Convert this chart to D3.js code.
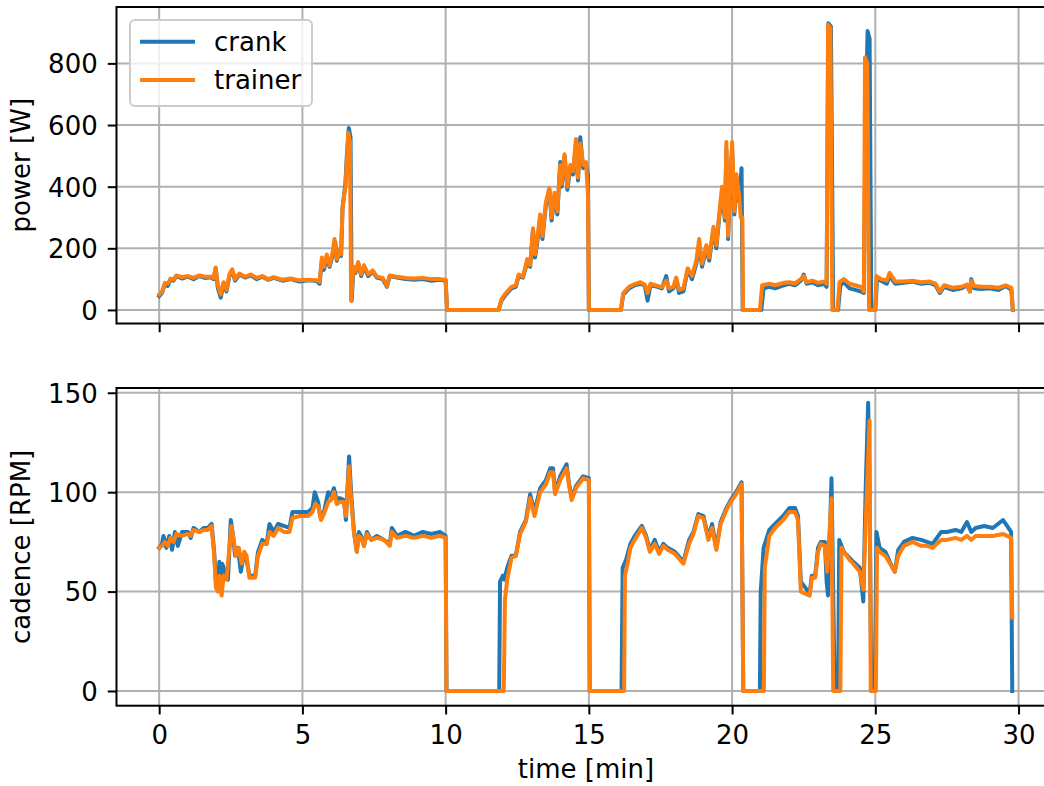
<!DOCTYPE html>
<html>
<head>
<meta charset="utf-8">
<script src="https://cdn.jsdelivr.net/npm/d3@7"></script>
<style>
  body { margin: 0; background: white; }
  text { font-family: "DejaVu Sans", sans-serif; }
</style>
</head>
<body>
<div id="chart"></div>
<script>
// Tick values
var timeTicks = [0, 5, 10, 15, 20, 25, 30];
var powerTicks = [0, 200, 400, 600, 800];
var cadenceTicks = [0, 50, 100, 150];

// Series: [time in min, value]
var crankPower = [[0,45],[0.1,55],[0.2,85],[0.3,78],[0.4,100],[0.5,95],[0.6,110],[0.8,102],[1.0,108],[1.2,100],[1.4,110],[1.6,104],[1.8,106],[1.9,100],[1.97,135],[2.05,70],[2.15,40],[2.25,85],[2.35,60],[2.45,110],[2.55,125],[2.65,95],[2.8,115],[3.0,105],[3.2,112],[3.4,100],[3.6,108],[3.8,98],[4.0,104],[4.3,95],[4.6,100],[4.9,92],[5.2,96],[5.5,94],[5.6,85],[5.68,160],[5.75,130],[5.85,170],[5.95,140],[6.05,175],[6.15,220],[6.2,160],[6.3,190],[6.35,175],[6.4,330],[6.5,410],[6.55,500],[6.62,590],[6.68,560],[6.72,30],[6.78,130],[6.85,120],[6.95,150],[7.05,110],[7.15,140],[7.3,110],[7.45,125],[7.6,105],[7.8,100],[7.95,75],[8.05,110],[8.3,105],[8.6,100],[8.9,98],[9.2,100],[9.5,95],[9.8,98],[10.0,95],[10.05,0],[11.85,0],[11.95,30],[12.1,50],[12.3,70],[12.45,75],[12.55,110],[12.7,105],[12.85,155],[12.95,140],[13.05,260],[13.12,170],[13.2,220],[13.3,300],[13.38,230],[13.5,340],[13.62,390],[13.7,290],[13.8,370],[13.9,310],[14.0,480],[14.05,400],[14.15,500],[14.25,390],[14.35,460],[14.45,440],[14.55,540],[14.62,420],[14.7,560],[14.8,460],[14.9,470],[14.97,440],[15.0,0],[16.12,0],[16.2,50],[16.4,70],[16.6,80],[16.8,85],[16.95,80],[17.05,30],[17.15,80],[17.4,75],[17.55,70],[17.7,110],[17.8,60],[17.95,70],[18.05,100],[18.15,55],[18.3,60],[18.45,130],[18.6,100],[18.75,150],[18.85,210],[18.95,140],[19.1,200],[19.2,160],[19.35,260],[19.45,200],[19.55,300],[19.65,380],[19.75,290],[19.8,520],[19.86,230],[19.93,400],[20.0,520],[20.08,310],[20.15,420],[20.25,350],[20.33,460],[20.37,0],[21.02,0],[21.1,70],[21.3,75],[21.5,70],[21.8,80],[22.0,85],[22.2,80],[22.4,95],[22.5,115],[22.6,85],[22.8,90],[23.0,80],[23.2,85],[23.3,75],[23.36,930],[23.45,920],[23.53,0],[23.7,0],[23.78,80],[23.9,90],[24.1,70],[24.3,65],[24.5,60],[24.6,55],[24.66,600],[24.73,905],[24.8,880],[24.86,0],[25.0,0],[25.06,100],[25.2,95],[25.4,85],[25.5,110],[25.7,85],[26.0,88],[26.3,92],[26.6,85],[26.9,88],[27.1,80],[27.25,55],[27.4,75],[27.7,65],[28.0,70],[28.2,80],[28.3,60],[28.35,100],[28.45,70],[28.7,68],[29.0,70],[29.3,65],[29.55,78],[29.75,65],[29.8,0]];

var trainerPower = [[0,50],[0.1,58],[0.2,88],[0.3,85],[0.4,102],[0.5,98],[0.6,112],[0.8,106],[1.0,110],[1.2,104],[1.4,112],[1.6,108],[1.8,108],[1.9,104],[1.97,138],[2.05,80],[2.15,50],[2.25,90],[2.35,65],[2.45,115],[2.55,132],[2.65,100],[2.8,118],[3.0,108],[3.2,115],[3.4,104],[3.6,110],[3.8,100],[4.0,106],[4.3,98],[4.6,102],[4.9,96],[5.2,98],[5.5,96],[5.6,92],[5.68,170],[5.75,140],[5.85,180],[5.95,145],[6.05,185],[6.12,230],[6.2,165],[6.3,195],[6.35,180],[6.4,330],[6.5,400],[6.55,480],[6.6,575],[6.66,545],[6.7,30],[6.78,140],[6.85,125],[6.95,155],[7.05,115],[7.15,145],[7.3,115],[7.45,128],[7.6,108],[7.8,104],[7.95,78],[8.05,112],[8.3,108],[8.6,104],[8.9,102],[9.2,104],[9.5,100],[9.8,100],[10.0,98],[10.05,0],[11.85,0],[11.95,35],[12.1,55],[12.3,75],[12.45,80],[12.55,115],[12.7,108],[12.85,165],[12.95,145],[13.05,265],[13.12,180],[13.2,230],[13.3,310],[13.38,240],[13.5,350],[13.62,395],[13.7,300],[13.8,380],[13.9,320],[14.0,470],[14.05,410],[14.15,505],[14.25,400],[14.35,470],[14.45,450],[14.55,555],[14.62,430],[14.7,540],[14.8,470],[14.9,480],[14.97,370],[15.0,0],[16.12,0],[16.2,55],[16.4,75],[16.6,84],[16.8,90],[16.95,82],[17.05,55],[17.15,85],[17.4,78],[17.55,74],[17.7,95],[17.8,70],[17.95,75],[18.05,105],[18.15,65],[18.3,70],[18.45,135],[18.6,110],[18.75,160],[18.85,230],[18.95,150],[19.1,210],[19.2,170],[19.35,270],[19.45,210],[19.55,310],[19.65,400],[19.75,300],[19.8,545],[19.86,240],[19.93,410],[20.0,545],[20.08,320],[20.15,440],[20.25,370],[20.3,300],[20.36,300],[20.38,0],[20.97,0],[21.05,80],[21.3,85],[21.5,80],[21.8,88],[22.0,90],[22.2,86],[22.4,100],[22.5,110],[22.6,90],[22.8,95],[23.0,88],[23.2,92],[23.3,85],[23.35,925],[23.43,915],[23.5,0],[23.68,0],[23.75,90],[23.9,100],[24.1,85],[24.3,80],[24.5,75],[24.6,60],[24.64,820],[24.72,800],[24.78,0],[25.0,0],[25.04,110],[25.2,100],[25.4,95],[25.5,120],[25.7,92],[26.0,92],[26.3,95],[26.6,90],[26.9,92],[27.1,85],[27.25,60],[27.4,80],[27.7,72],[28.0,75],[28.2,82],[28.3,60],[28.35,95],[28.45,78],[28.7,75],[29.0,75],[29.3,72],[29.55,80],[29.75,72],[29.8,0]];

var crankCadence = [[0,72],[0.1,74],[0.15,78],[0.25,72],[0.35,78],[0.45,71],[0.55,80],[0.65,73],[0.8,80],[1.0,80],[1.1,77],[1.2,82],[1.4,80],[1.55,82],[1.7,82],[1.83,84],[1.92,70],[1.98,55],[2.05,52],[2.1,65],[2.15,55],[2.2,64],[2.3,60],[2.4,56],[2.5,86],[2.58,78],[2.65,68],[2.75,72],[2.85,60],[2.95,68],[3.05,66],[3.15,58],[3.35,58],[3.45,70],[3.6,76],[3.75,74],[3.85,84],[4.0,80],[4.15,84],[4.35,83],[4.55,82],[4.65,90],[4.9,90],[5.2,90],[5.35,92],[5.43,100],[5.55,95],[5.62,88],[5.75,90],[5.9,100],[6.0,98],[6.1,102],[6.2,96],[6.3,97],[6.45,96],[6.52,86],[6.63,118],[6.7,100],[6.8,80],[6.9,70],[6.97,80],[7.05,78],[7.15,73],[7.25,80],[7.4,76],[7.6,78],[7.85,76],[8.05,74],[8.12,82],[8.3,78],[8.6,80],[8.9,78],[9.2,80],[9.5,79],[9.8,80],[10.0,78],[10.03,0],[11.87,0],[11.9,55],[12.0,58],[12.05,56],[12.15,62],[12.3,68],[12.45,68],[12.6,80],[12.8,86],[12.95,99],[13.1,90],[13.3,102],[13.5,106],[13.65,112],[13.75,112],[13.82,100],[14.0,108],[14.22,114],[14.3,105],[14.4,97],[14.55,103],[14.8,108],[15.0,107],[15.03,0],[16.14,0],[16.18,62],[16.3,66],[16.45,74],[16.6,78],[16.85,83],[17.0,78],[17.13,71],[17.3,76],[17.45,70],[17.6,74],[17.75,72],[18.0,70],[18.3,65],[18.5,76],[18.65,80],[18.82,89],[19.0,88],[19.17,77],[19.3,84],[19.45,72],[19.6,85],[19.8,92],[19.95,96],[20.1,99],[20.33,105],[20.39,0],[20.97,0],[21.0,50],[21.1,72],[21.3,81],[21.5,84],[21.78,88],[22.0,92],[22.2,92],[22.3,88],[22.4,55],[22.71,49],[22.78,58],[22.9,58],[23.0,72],[23.1,75],[23.24,75],[23.3,55],[23.35,48],[23.47,107],[23.52,60],[23.58,0],[23.7,0],[23.74,76],[23.9,70],[24.1,67],[24.23,65],[24.46,62],[24.58,45],[24.66,100],[24.75,145],[24.8,100],[24.86,0],[24.98,0],[25.04,80],[25.15,72],[25.35,70],[25.6,62],[25.68,60],[25.8,71],[26.0,75],[26.3,77],[26.6,76],[26.8,75],[27.0,74],[27.3,80],[27.5,80],[27.8,81],[28.0,80],[28.2,85],[28.35,80],[28.5,82],[28.8,83],[29.1,82],[29.46,86],[29.6,83],[29.74,80],[29.78,0]];

var trainerCadence = [[0,72],[0.1,73],[0.2,75],[0.3,73],[0.4,77],[0.5,75],[0.6,79],[0.8,78],[1.0,79],[1.1,78],[1.2,81],[1.4,80],[1.55,81],[1.7,81],[1.83,83],[1.92,68],[1.98,52],[2.05,50],[2.1,58],[2.18,48],[2.25,58],[2.35,56],[2.52,83],[2.6,76],[2.68,68],[2.78,72],[2.88,64],[2.97,70],[3.05,68],[3.15,57],[3.35,57],[3.45,68],[3.6,74],[3.75,74],[3.85,80],[4.0,78],[4.15,82],[4.35,80],[4.55,80],[4.65,87],[4.9,88],[5.2,88],[5.35,90],[5.45,94],[5.55,93],[5.65,86],[5.75,89],[5.9,95],[6.0,96],[6.1,100],[6.2,94],[6.3,95],[6.45,95],[6.52,88],[6.63,113],[6.7,96],[6.8,80],[6.9,70],[6.97,78],[7.05,77],[7.15,73],[7.25,79],[7.4,76],[7.6,77],[7.85,76],[8.05,73],[8.12,80],[8.3,77],[8.6,78],[8.9,77],[9.2,78],[9.5,77],[9.8,78],[10.0,77],[10.03,0],[12.03,0],[12.07,46],[12.15,56],[12.3,67],[12.45,68],[12.6,79],[12.8,85],[12.95,97],[13.1,88],[13.3,100],[13.5,104],[13.65,110],[13.75,110],[13.82,99],[14.0,106],[14.22,112],[14.3,104],[14.4,96],[14.55,102],[14.8,107],[15.0,106],[15.03,0],[16.23,0],[16.26,58],[16.35,64],[16.45,72],[16.6,76],[16.85,82],[17.0,77],[17.13,70],[17.3,74],[17.45,69],[17.6,73],[17.75,71],[18.0,69],[18.3,64],[18.5,74],[18.65,79],[18.82,88],[19.0,87],[19.17,76],[19.3,82],[19.45,71],[19.6,84],[19.8,91],[19.95,95],[20.1,98],[20.33,104],[20.39,0],[21.11,0],[21.14,62],[21.3,78],[21.5,82],[21.78,86],[22.0,90],[22.2,90],[22.3,86],[22.4,50],[22.71,48],[22.78,57],[22.9,57],[23.0,70],[23.1,74],[23.24,73],[23.32,60],[23.47,97],[23.53,0],[23.78,0],[23.82,72],[23.9,70],[24.1,66],[24.23,64],[24.46,60],[24.58,51],[24.68,90],[24.8,136],[24.84,0],[25.02,0],[25.06,72],[25.15,70],[25.35,68],[25.6,62],[25.68,60],[25.8,68],[26.0,73],[26.3,75],[26.6,73],[26.8,73],[27.0,72],[27.3,76],[27.5,76],[27.8,77],[28.0,76],[28.2,78],[28.35,76],[28.5,78],[28.8,78],[29.1,78],[29.46,79],[29.6,78],[29.74,77],[29.78,37]];

var colors = { crank: "#1f77b4", trainer: "#ff7f0e" };
var fontSize = 26;

var width = 1044, height = 786;
var left = 116.5, right = 1055.5;

var svg = d3.select("#chart").append("svg")
  .attr("width", width)
  .attr("height", height)
  .style("display", "block");

svg.append("rect").attr("width", width).attr("height", height).attr("fill", "white");

// Shared x scale (time in minutes)
var x = d3.scaleLinear().domain([-1.49, 31.29]).range([left, right]);

var yPower = d3.scaleLinear().domain([-44, 983]).range([323.5, 7]);
var yCadence = d3.scaleLinear().domain([-7.4, 152.4]).range([705.7, 388]);

function drawPanel(y, yTicks, label, crank, trainer, showXLabels, id) {
  var top = y.range()[1], bottom = y.range()[0];
  var g = svg.append("g");

  // Grid lines
  g.selectAll("line.xgrid").data(timeTicks).enter().append("line")
    .attr("x1", function(d) { return x(d); }).attr("x2", function(d) { return x(d); })
    .attr("y1", top).attr("y2", bottom)
    .attr("stroke", "#b0b0b0").attr("stroke-width", 2);
  g.selectAll("line.ygrid").data(yTicks).enter().append("line")
    .attr("x1", left).attr("x2", right)
    .attr("y1", function(d) { return y(d); }).attr("y2", function(d) { return y(d); })
    .attr("stroke", "#b0b0b0").attr("stroke-width", 2);

  // Clip lines to the axes area
  svg.append("clipPath").attr("id", id)
    .append("rect").attr("x", left).attr("y", top).attr("width", right - left).attr("height", bottom - top);

  var line = d3.line()
    .x(function(d) { return x(d[0]); })
    .y(function(d) { return y(d[1]); });

  [[crank, colors.crank], [trainer, colors.trainer]].forEach(function(s) {
    g.append("path")
      .datum(s[0])
      .attr("clip-path", "url(#" + id + ")")
      .attr("d", line)
      .attr("fill", "none")
      .attr("stroke", s[1])
      .attr("stroke-width", 4)
      .attr("stroke-linejoin", "round")
      .attr("stroke-linecap", "square");
  });

  // Spines
  g.append("rect")
    .attr("x", left).attr("y", top)
    .attr("width", right - left).attr("height", bottom - top)
    .attr("fill", "none").attr("stroke", "black").attr("stroke-width", 2);

  // Y axis
  var yAxis = d3.axisLeft(y).tickValues(yTicks).tickSize(8.75).tickPadding(10);
  var ya = g.append("g").attr("transform", "translate(" + left + ",0)").call(yAxis);
  ya.select(".domain").remove();
  ya.selectAll(".tick line").attr("stroke", "black").attr("stroke-width", 2);
  ya.selectAll(".tick text")
    .attr("font-size", fontSize).attr("fill", "black")
    .attr("font-family", "DejaVu Sans, sans-serif")
    .attr("dy", "0.36em");

  // X axis
  var xAxis = d3.axisBottom(x).tickValues(timeTicks).tickSize(8.75).tickPadding(10);
  var xa = g.append("g").attr("transform", "translate(0," + bottom + ")").call(xAxis);
  xa.select(".domain").remove();
  xa.selectAll(".tick line").attr("stroke", "black").attr("stroke-width", 2);
  xa.selectAll(".tick text")
    .attr("font-size", fontSize).attr("fill", "black")
    .attr("font-family", "DejaVu Sans, sans-serif")
    .attr("y", 38).attr("dy", 0);
  if (!showXLabels) xa.selectAll(".tick text").remove();

  // Y label
  g.append("text")
    .attr("transform", "translate(30," + ((top + bottom) / 2) + ") rotate(-90)")
    .attr("text-anchor", "middle")
    .attr("font-size", fontSize)
    .text(label);
}

drawPanel(yPower, powerTicks, "power [W]", crankPower, trainerPower, false, "clipTop");
drawPanel(yCadence, cadenceTicks, "cadence [RPM]", crankCadence, trainerCadence, true, "clipBottom");

// X label
svg.append("text")
  .attr("x", (left + right) / 2)
  .attr("y", 778)
  .attr("text-anchor", "middle")
  .attr("font-size", fontSize)
  .text("time [min]");

// Legend
var legend = svg.append("g");
legend.append("rect")
  .attr("x", 130).attr("y", 20).attr("width", 182).attr("height", 86)
  .attr("rx", 5).attr("ry", 5)
  .attr("fill", "white").attr("fill-opacity", 0.8)
  .attr("stroke", "#cccccc").attr("stroke-width", 2);

[["crank", colors.crank, 41.7], ["trainer", colors.trainer, 80]].forEach(function(d) {
  legend.append("line")
    .attr("x1", 140).attr("x2", 195)
    .attr("y1", d[2]).attr("y2", d[2])
    .attr("stroke", d[1]).attr("stroke-width", 4);
  legend.append("text")
    .attr("x", 214).attr("y", d[2])
    .attr("dy", "0.36em")
    .attr("font-size", fontSize)
    .text(d[0]);
});
</script>
</body>
</html>
